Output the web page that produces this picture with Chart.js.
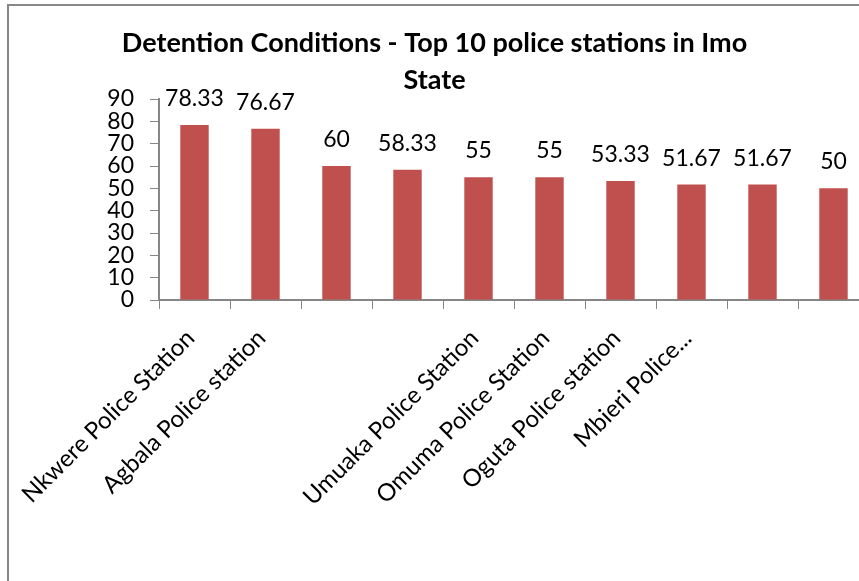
<!DOCTYPE html>
<html>
<head>
<meta charset="utf-8">
<script src="https://cdn.jsdelivr.net/npm/chart.js@4.4.1/dist/chart.umd.min.js"></script>
<style>
  html, body { margin: 0; padding: 0; background: #fff; overflow: hidden; }
  #frame { position: absolute; left: 7px; top: 4px; width: 900px; height: 576px; border-left: 2px solid #878787; border-top: 2px solid #878787; }
  #wrap { position: absolute; left: 0; top: 0; width: 880px; height: 581px; }
</style>
</head>
<body>
<div id="frame"></div>
<div id="wrap"><canvas id="detention_chart" width="880" height="581"></canvas></div>
<script>
// names not printed under bars 3, 4, 9 and 10 are left blank
const station_names = ["Nkwere Police Station", "Agbala Police station", "", "", "Umuaka Police Station",
  "Omuma Police Station", "Oguta Police station", "Mbieri Police...", "", ""];
const station_scores = [78.33, 76.67, 60, 58.33, 55, 55, 53.33, 51.67, 51.67, 50];
const y_min = 0;
const y_max = 90;
const y_step = 10;
const title_lines = ["Detention Conditions - Top 10 police stations in Imo", "State"];

const axis_color = "#868686";
const bar_color = "#C0504D";
const font_family = "Lato, 'Open Sans', sans-serif";

const value_labels = {
  id: "value_labels",
  afterDatasetsDraw(chart) {
    const ctx = chart.ctx;
    const meta = chart.getDatasetMeta(0);
    ctx.save();
    ctx.font = "23px " + font_family;
    ctx.fillStyle = "#000";
    ctx.textAlign = "center";
    ctx.textBaseline = "alphabetic";
    meta.data.forEach(function(bar, i) {
      ctx.fillText(String(station_scores[i]), bar.x, bar.y - 19);
    });
    ctx.restore();
  }
};

new Chart("detention_chart", {
  type: "bar",
  data: {
    labels: station_names,
    datasets: [{
      data: station_scores,
      backgroundColor: bar_color,
      borderWidth: 0,
      barPercentage: 0.4,
      categoryPercentage: 1
    }]
  },
  options: {
    responsive: false,
    animation: false,
    layout: { padding: { left: 0, right: 11, top: 0, bottom: 0 } },
    plugins: {
      legend: { display: false },
      tooltip: { enabled: false },
      title: {
        display: true,
        text: title_lines,
        color: "#000",
        font: { family: font_family, size: 27, weight: "bold", lineHeight: "37px" },
        padding: { top: 25, bottom: 0 }
      }
    },
    scales: {
      x: {
        grid: { drawOnChartArea: false, color: axis_color, lineWidth: 1, tickLength: 9, offset: true },
        border: { color: axis_color, width: 2 },
        ticks: {
          autoSkip: false,
          maxRotation: 45,
          minRotation: 45,
          padding: 15,
          labelOffset: -4,
          color: "#000",
          font: { family: font_family, size: 24 }
        },
        afterFit: function(scale) { scale.height = 281; }
      },
      y: {
        min: y_min,
        max: y_max,
        grid: { drawOnChartArea: false, color: axis_color, lineWidth: 1, tickLength: 9 },
        border: { color: axis_color, width: 2 },
        ticks: {
          autoSkip: false,
          stepSize: y_step,
          padding: 16,
          color: "#000",
          font: { family: font_family, size: 23 }
        },
        afterFit: function(scale) { scale.width = 159; }
      }
    }
  },
  plugins: [value_labels]
});
</script>
</body>
</html>
